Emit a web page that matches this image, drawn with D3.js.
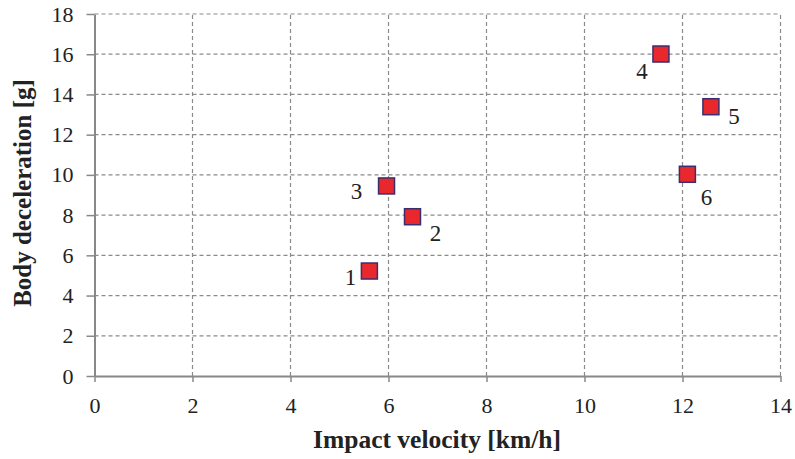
<!DOCTYPE html>
<html><head><meta charset="utf-8">
<script src="https://cdn.jsdelivr.net/npm/d3@7"></script>
<style>html,body{margin:0;padding:0;background:#fff;}svg{display:block;}</style>
</head><body>
<svg id="c" width="795" height="459"></svg>
<script>
const labels = ["1","2","3","4","5","6"];
const xVals = [5.61, 6.49, 5.96, 11.56, 12.58, 12.10];
const yVals = [5.22, 7.92, 9.45, 16.01, 13.39, 10.03];
const labelDx = [-19, 23, -30, -19, 23, 19];
const labelDy = [14, 24, 13, 25, 17, 31];
const xTicks = [0,2,4,6,8,10,12,14];
const yTicks = [0,2,4,6,8,10,12,14,16,18];

const svg = d3.select("#c");
const x = d3.scaleLinear().domain([0,14]).range([94.5,780.5]);
const y = d3.scaleLinear().domain([0,18]).range([376,14]);
const FONT = "Liberation Serif";

// grid
svg.append("g").selectAll("line").data(yTicks.filter(d=>d>0)).join("line")
  .attr("x1",x(0)).attr("x2",x(14)).attr("y1",d=>y(d)).attr("y2",d=>y(d))
  .attr("stroke","#8a8a8a").attr("stroke-width",1.2).attr("stroke-dasharray","4,3");
svg.append("g").selectAll("line").data(xTicks.filter(d=>d>0)).join("line")
  .attr("y1",y(0)).attr("y2",y(18)).attr("x1",d=>x(d)).attr("x2",d=>x(d))
  .attr("stroke","#8a8a8a").attr("stroke-width",1.2).attr("stroke-dasharray","4,3");

// axes
const xa = svg.append("g").attr("transform",`translate(0,${y(0)})`)
  .call(d3.axisBottom(x).tickValues(xTicks).tickSize(6).tickPadding(15).tickSizeOuter(0));
const ya = svg.append("g").attr("transform",`translate(${x(0)},0)`)
  .call(d3.axisLeft(y).tickValues(yTicks).tickSize(8).tickPadding(13).tickSizeOuter(0));
[xa,ya].forEach(a=>{
  a.attr("font-family",FONT).attr("font-size",22);
  a.select(".domain").attr("stroke","#888").attr("stroke-width",2);
  a.selectAll(".tick line").attr("stroke","#888").attr("stroke-width",1.5);
  a.selectAll(".tick text").attr("fill","#222");
});

// points
svg.append("g").selectAll("rect").data(labels).join("rect")
  .attr("x",(d,i)=>x(xVals[i])-8).attr("y",(d,i)=>y(yVals[i])-8)
  .attr("width",16).attr("height",16)
  .attr("fill","#e8282c").attr("stroke","#3b2e6e").attr("stroke-width",1.5);

svg.append("g").attr("font-family",FONT).attr("font-size",23)
  .selectAll("text").data(labels).join("text")
  .attr("x",(d,i)=>x(xVals[i])+labelDx[i]).attr("y",(d,i)=>y(yVals[i])+labelDy[i])
  .attr("text-anchor","middle").attr("fill","#222")
  .text(d=>d);

// titles
svg.append("text").attr("x",437).attr("y",448).attr("text-anchor","middle")
  .attr("font-family",FONT).attr("font-size",25.5).attr("font-weight","bold").attr("fill","#222")
  .text("Impact velocity [km/h]");
svg.append("text").attr("transform","translate(31,193) rotate(-90)").attr("text-anchor","middle")
  .attr("font-family",FONT).attr("font-size",25).attr("font-weight","bold").attr("fill","#222")
  .text("Body deceleration [g]");
</script>
</body></html>
